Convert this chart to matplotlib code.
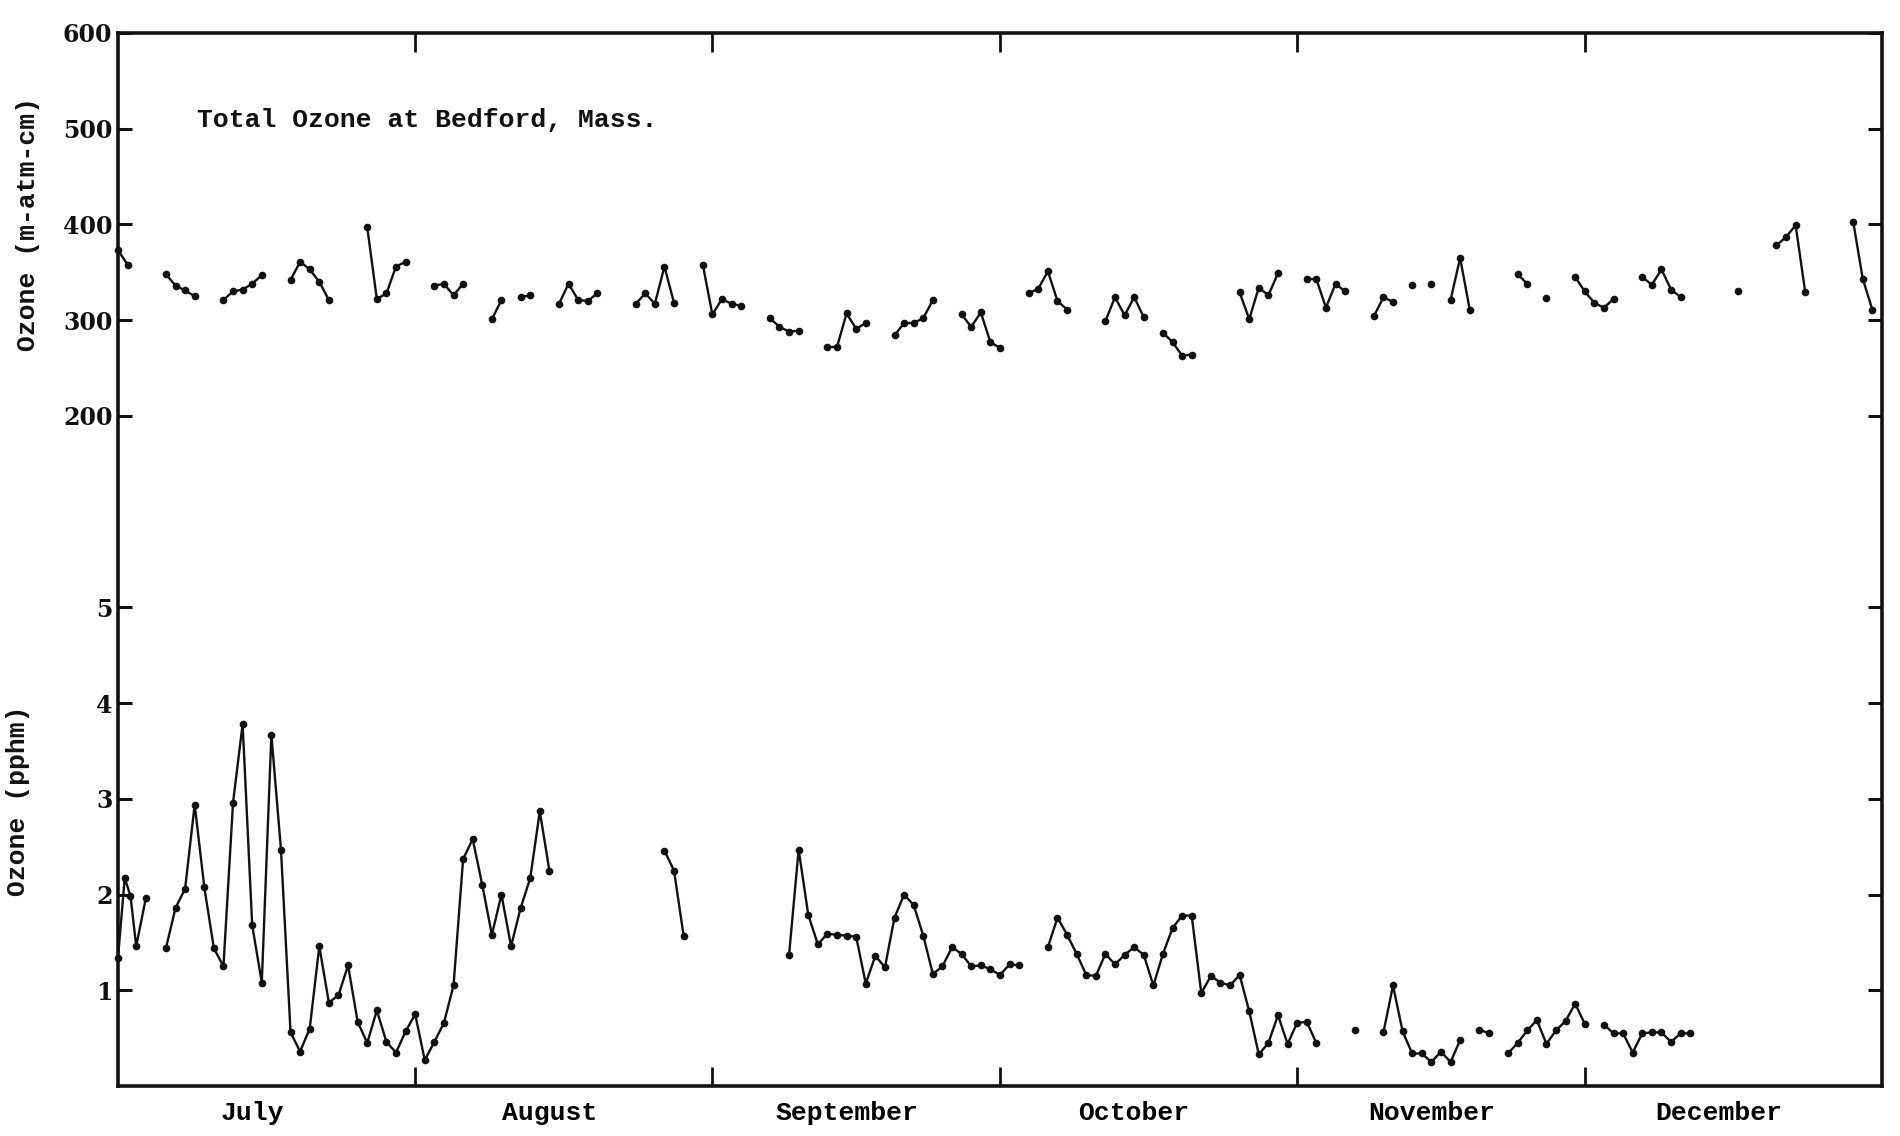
import numpy as np
import matplotlib
matplotlib.use('Agg')
import matplotlib.pyplot as plt

# ---------------- data ----------------
months = ['July', 'August', 'September', 'October', 'November', 'December']
month_start_days = [0, 31, 62, 92, 123, 153]   # days after July 1
n_days = 184

# Total ozone (m-atm-cm): each run of consecutive daily values starts at the given day
total_starts = [0, 5, 11, 18, 26, 33, 39, 42, 46, 54, 61, 68, 74, 81, 88, 95,
                103, 109, 117, 124, 131, 135, 137, 139, 146, 149, 152, 159, 169, 173, 181]
total_segments = [
    [373, 358],
    [348, 336, 331, 325],
    [321, 330, 332, 338, 347],
    [342, 361, 353, 340, 321],
    [397, 322, 328, 356, 361],
    [336, 338, 326, 338],
    [301, 321],
    [324, 326],
    [317, 338, 321, 320, 328],
    [317, 328, 317, 356, 318],
    [358, 306, 322, 317, 315],
    [302, 293, 288, 289],
    [272, 272, 307, 291, 297],
    [284, 297, 297, 302, 321],
    [306, 293, 308, 277, 271],
    [328, 333, 351, 320, 311],
    [299, 324, 305, 324, 303],
    [287, 277, 263, 264],
    [329, 301, 334, 326, 349],
    [343, 343, 313, 338, 330],
    [304, 324, 319],
    [337],
    [338],
    [321, 365, 311],
    [348, 338],
    [323],
    [345, 330, 318, 313, 322],
    [345, 337, 353, 332, 324],
    [330],
    [378, 387, 399, 329],
    [403, 343, 311],
]

# Surface ozone (pphm)
surface_early_days = [0, 0.7, 1.3, 1.9, 2.9]
surface_early_pphm = [1.34, 2.17, 1.99, 1.46, 1.96]
surface_starts = [5, 57, 70, 97, 129, 132, 142, 145, 155]
surface_segments = [
    [1.44, 1.86, 2.06, 2.94, 2.08, 1.44, 1.25, 2.96, 3.78, 1.68, 1.08, 3.67, 2.47,
     0.56, 0.36, 0.60, 1.46, 0.87, 0.95, 1.26, 0.67, 0.45, 0.79, 0.46, 0.35, 0.57,
     0.75, 0.27, 0.46, 0.66, 1.05, 2.37, 2.58, 2.10, 1.58, 2.00, 1.46, 1.86, 2.17,
     2.87, 2.25],
    [2.46, 2.25, 1.57],
    [1.37, 2.47, 1.79, 1.48, 1.59, 1.58, 1.57, 1.56, 1.07, 1.36, 1.24, 1.76, 2.00,
     1.89, 1.57, 1.17, 1.25, 1.45, 1.38, 1.25, 1.26, 1.22, 1.16, 1.27, 1.26],
    [1.45, 1.76, 1.58, 1.38, 1.16, 1.15, 1.38, 1.27, 1.37, 1.45, 1.37, 1.05, 1.38,
     1.65, 1.78, 1.78, 0.97, 1.15, 1.08, 1.05, 1.16, 0.78, 0.33, 0.45, 0.74, 0.44,
     0.66, 0.67, 0.45],
    [0.58],
    [0.56, 1.05, 0.57, 0.34, 0.34, 0.25, 0.36, 0.25, 0.48],
    [0.59, 0.55],
    [0.34, 0.45, 0.58, 0.69, 0.44, 0.58, 0.68, 0.86, 0.65],
    [0.64, 0.55, 0.55, 0.35, 0.55, 0.56, 0.56, 0.46, 0.55, 0.55],
]

pphm_ticks = [1, 2, 3, 4, 5]
total_ticks = [200, 300, 400, 500, 600]
title_text = 'Total Ozone at Bedford, Mass.'

# ---------------- style ----------------
mono = ['Liberation Mono', 'DejaVu Sans Mono']
serif = ['DejaVu Serif']
ink = '#111111'
line_kw = dict(color=ink, lw=1.7, marker='o', ms=4.5, mfc=ink, mec=ink,
               clip_on=False, solid_joinstyle='miter')

fig = plt.figure(figsize=(19, 11.36), dpi=100)
ax = fig.add_axes([0.0621, 0.044, 0.9284, 0.927])
ax.set_xlim(0, n_days)
ax.set_ylim(0, 11)

# twin scale for total ozone: 200 sits at 7 pphm-units, 100 m-atm-cm per unit
axt = ax.twinx()
axt.set_ylim(-500, 600)
for sp in axt.spines.values():
    sp.set_visible(False)

for sp in ax.spines.values():
    sp.set_linewidth(2.6)
    sp.set_color(ink)

# y ticks
ax.set_yticks(pphm_ticks)
ax.set_yticklabels([str(t) for t in pphm_ticks])
ax.tick_params(axis='y', direction='in', length=10, width=2.2, left=True, right=True,
               labelleft=True, labelright=False, pad=4, colors=ink)
axt.set_yticks(total_ticks)
axt.set_yticklabels([str(t) for t in total_ticks])
axt.tick_params(axis='y', direction='in', length=10, width=2.2, left=True, right=True,
                labelleft=True, labelright=False, pad=4, colors=ink)
for a in (ax, axt):
    for lab in a.get_yticklabels():
        lab.set_family(serif)
        lab.set_fontweight('bold')
        lab.set_fontsize(17)

# x ticks: month boundaries
ax.set_xticks(month_start_days[1:])
ax.set_xticklabels([])
ax.tick_params(axis='x', which='major', direction='in', length=14, width=2.0,
               top=True, bottom=True, colors=ink)
ax.set_xticks([d + 14 for d in month_start_days], minor=True)
ax.set_xticklabels(months, minor=True, family=mono, fontsize=19, fontweight='bold')
ax.tick_params(axis='x', which='minor', length=0, pad=11)

# data
for s, vals in zip(total_starts, total_segments):
    axt.plot(s + np.arange(len(vals)), vals, **line_kw)
ax.plot(surface_early_days, surface_early_pphm, **line_kw)
for s, vals in zip(surface_starts, surface_segments):
    ax.plot(s + np.arange(len(vals)), vals, **line_kw)

# texts
ax.text(0.045, 0.917, title_text, transform=ax.transAxes, family=mono,
        fontsize=19, fontweight='bold', ha='left', va='center', color=ink)
fig.text(0.0145, 0.803, 'Ozone (m-atm-cm)', rotation=90, family=mono,
         fontsize=19, fontweight='bold', ha='center', va='center', color=ink)
fig.text(0.0095, 0.295, 'Ozone (pphm)', rotation=90, family=mono,
         fontsize=19, fontweight='bold', ha='center', va='center', color=ink)

fig.savefig('out.png', dpi=100, facecolor='white')
